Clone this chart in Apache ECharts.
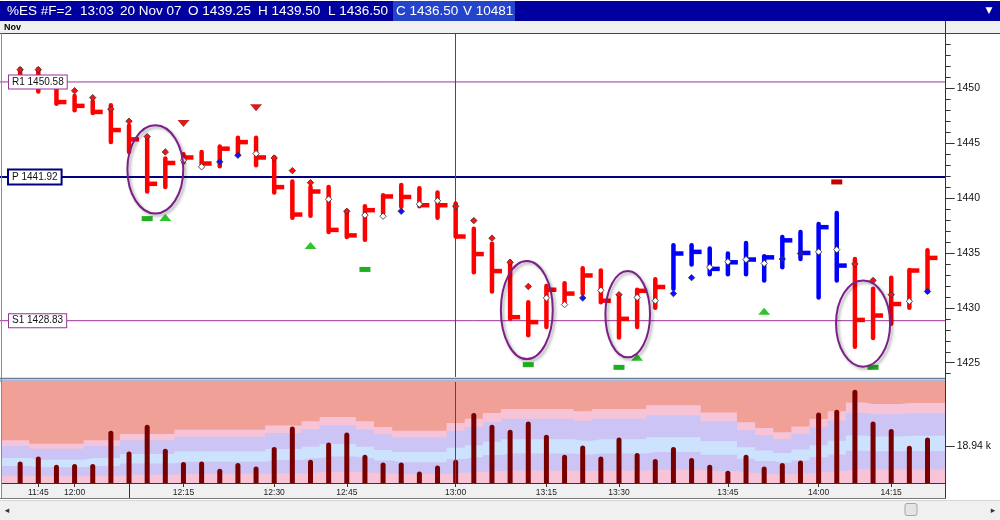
<!DOCTYPE html>
<html><head><meta charset="utf-8">
<script src="https://cdn.jsdelivr.net/npm/echarts@6/dist/echarts.min.js"></script>
<style>html,body{margin:0;padding:0;background:#fff}#c{width:1000px;height:520px}</style>
</head><body><div id="c"></div><script>
// ---------- data ----------
const tickIdx  = [1, 3, 9, 14, 18, 24, 29, 33, 39, 44, 48];
const tickText = ['11:45','12:00','12:15','12:30','12:45','13:00','13:15','13:30','13:45','14:00','14:15'];
const priceTicks = [1425, 1430, 1435, 1440, 1445, 1450];
const priceMinor = [1424,1425,1426,1427,1428,1429,1430,1431,1432,1433,1434,1435,1436,1437,1438,1439,1440,1441,1442,1443,1444,1445,1446,1447,1448,1449,1450,1451,1452,1453,1454,1455];
const volRef = 18.94;
const cursorBar = 24;

const opens  = [1451.7,1451.7,1450.3,1449.78,1449.15,1448.1,1447.0,1445.6,1444.2,1443.45,1442.85,1443.3,1443.9,1444.05,1443.65,1442.5,1441.4,1439.9,1438.8,1438.45,1438.35,1438.8,1439.45,1439.75,1439.25,1437.95,1436.35,1434.15,1431.95,1430.9,1430.3,1430.9,1431.6,1431.2,1430.95,1430.65,1431.3,1432.75,1433.7,1434.2,1434.4,1434.05,1434.45,1434.95,1435.1,1435.3,1434.0,1432.5,1431.2,1430.6,1431.5];
const highs  = [1451.75,1451.75,1450.25,1449.3,1448.8,1448.45,1446.6,1445.4,1443.6,1444.0,1444.2,1444.7,1445.5,1445.5,1443.7,1441.5,1441.0,1441.0,1438.8,1439.25,1440.25,1441.2,1440.9,1440.5,1439.5,1437.2,1435.85,1434.2,1430.5,1432.0,1432.25,1433.6,1433.4,1431.1,1431.65,1432.6,1435.7,1435.7,1435.4,1434.95,1435.9,1434.7,1436.45,1436.9,1437.65,1438.65,1434.45,1431.75,1432.75,1433.45,1435.25];
const lows   = [1450.5,1449.7,1448.6,1448.0,1447.75,1445.1,1444.2,1440.6,1441.0,1443.25,1442.85,1442.9,1444.0,1443.0,1440.5,1438.2,1438.4,1436.9,1436.45,1436.2,1438.6,1439.2,1439.25,1438.2,1436.5,1433.25,1431.5,1429.0,1427.5,1428.25,1430.35,1431.3,1430.5,1427.3,1428.25,1430.0,1431.75,1433.95,1433.05,1433.05,1433.05,1432.5,1433.7,1434.45,1430.95,1432.5,1426.45,1427.25,1428.55,1430.0,1431.45];
const closes = [1451.0,1450.25,1448.75,1448.4,1447.85,1446.2,1445.35,1441.3,1443.2,1443.7,1443.15,1444.5,1445.1,1443.7,1441.0,1438.5,1440.6,1437.1,1436.6,1438.9,1440.15,1440.1,1439.35,1439.35,1436.5,1434.9,1433.35,1429.15,1428.7,1431.65,1431.3,1432.95,1430.65,1429.0,1431.55,1431.9,1434.95,1435.1,1433.55,1434.15,1434.4,1434.6,1436.15,1435.0,1437.35,1433.85,1428.9,1429.3,1430.35,1433.4,1434.55];
const barColor  = ['r','r','r','r','r','r','r','r','r','r','r','r','r','r','r','r','r','r','r','r','r','r','r','r','r','r','r','r','r','r','r','r','r','r','r','r','b','b','b','b','b','b','b','b','b','b','r','r','r','r','r'];
const openColor = ['r','r','r','r','r','r','r','r','r','w','w','b','b','w','r','r','r','w','r','w','w','b','w','w','r','r','r','r','r','w','w','b','w','r','w','w','b','b','w','w','w','w','b','b','w','w','r','r','r','w','b'];

const volumes = [11.18,13.77,9.47,9.83,9.83,27.07,16.35,30.17,17.75,10.87,11.18,7.40,10.35,8.59,18.63,29.29,12.06,21.01,26.19,14.65,10.66,10.66,6.00,9.11,12.06,36.23,30.17,27.58,31.88,25.00,14.65,19.46,13.77,23.60,15.53,12.42,18.63,12.94,9.47,6.37,14.65,8.59,10.35,11.70,36.54,37.93,48.28,31.88,27.95,19.30,23.60];

const band5 = [22.1,20.3,20.3,20.3,22.1,22.1,25.4,25.4,25.4,27.6,27.6,27.6,27.6,27.6,29.8,29.8,31.9,34.2,34.2,31.9,29.0,27.1,27.1,27.1,31.1,33.3,36.2,38.3,38.3,38.3,38.3,37.1,38.3,38.3,38.3,40.2,40.2,40.2,36.5,36.5,31.4,28.5,26.2,29.3,33.1,37.1,41.7,40.9,40.9,41.4,41.4];
const band4 = [19.2,17.7,17.7,17.7,19.2,19.2,22.1,22.1,22.1,24.0,24.0,24.0,24.0,24.0,25.9,25.9,27.7,29.7,29.7,27.7,25.2,23.6,23.6,23.6,27.0,29.0,31.5,33.3,33.3,33.3,33.3,32.2,33.3,33.3,33.3,34.9,34.9,34.9,31.8,31.8,27.3,24.8,22.8,25.5,28.8,32.2,36.3,35.6,35.6,36.0,36.0];
const band3 = [13.0,12.0,12.0,12.0,13.0,13.0,15.0,15.0,15.0,16.3,16.3,16.3,16.3,16.3,17.6,17.6,18.8,20.2,20.2,18.8,17.1,16.0,16.0,16.0,18.3,19.6,21.4,22.6,22.6,22.6,22.6,21.9,22.6,22.6,22.6,23.7,23.7,23.7,21.6,21.6,18.5,16.8,15.5,17.3,19.5,21.9,24.6,24.1,24.1,24.4,24.4];
const band2 = [8.8,8.1,8.1,8.1,8.8,8.8,10.1,10.1,10.1,11.0,11.0,11.0,11.0,11.0,11.9,11.9,12.8,13.7,13.7,12.8,11.6,10.8,10.8,10.8,12.4,13.3,14.5,15.3,15.3,15.3,15.3,14.8,15.3,15.3,15.3,16.1,16.1,16.1,14.6,14.6,12.5,11.4,10.5,11.7,13.3,14.8,16.7,16.4,16.4,16.6,16.6];
const band1 = [3.8,3.5,3.5,3.5,3.8,3.8,4.3,4.3,4.3,4.7,4.7,4.7,4.7,4.7,5.1,5.1,5.4,5.8,5.8,5.4,4.9,4.6,4.6,4.6,5.3,5.7,6.2,6.5,6.5,6.5,6.5,6.3,6.5,6.5,6.5,6.8,6.8,6.8,6.2,6.2,5.3,4.8,4.5,5.0,5.6,6.3,7.1,7.0,7.0,7.0,7.0];

const levelNames  = ['R1', 'P', 'S1'];
const levelValues = [1450.58, 1441.92, 1428.83];

const sigUpGreen   = [[8, 1438.22], [16, 1435.69], [34, 1425.49], [41, 1429.69]];
const sigDownRed   = [[9, 1446.8], [13, 1448.23]];
const sigRectGreen = [[7, 1438.13], [19, 1433.5], [28, 1424.82], [33, 1424.58], [47, 1424.58]];
const sigRectRed   = [[45, 1441.47]];

// ellipse annotations: [centre bar, centre price, half width (bars), half height (points)]
const ellipseX  = [7.45, 27.92, 33.48, 46.45];
const ellipseY  = [1442.61, 1429.8, 1429.42, 1428.57];
const ellipseRX = [1.54, 1.43, 1.23, 1.49];
const ellipseRY = [4.02, 4.47, 3.93, 3.93];

const titleParts = ['%ES #F=2', '13:03', '20 Nov 07', 'O 1439.25', 'H 1439.50', 'L 1436.50', 'C 1436.50', 'V 10481'];

// ---------- styles ----------
const FONT = '"Liberation Sans", Arial, sans-serif';
const RED = '#ff0000', BLUE = '#0000ff';
const diaFill = {r: '#ff1010', b: '#1010ff', w: '#ffffff'};
const levelStroke = ['#993399', '#000080', '#993399'];
const levelWidth  = [1, 2, 1];

const ohlc = opens.map((o, i) => [i, o, highs[i], lows[i], closes[i]]);
const padBand = arr => [[-1, arr[0]]].concat(arr.map((v, i) => [i, v])).concat([[arr.length, arr[arr.length - 1]]]);

function renderBar(params, api) {
  const k = params.dataIndex;
  const i = api.value(0);
  const col = barColor[k] === 'b' ? BLUE : RED;
  const pO = api.coord([i, api.value(1)]);
  const pH = api.coord([i, api.value(2)]);
  const pL = api.coord([i, api.value(3)]);
  const pC = api.coord([i, api.value(4)]);
  const d = 3.2;
  return {type: 'group', children: [
    {type: 'line', shape: {x1: pH[0], y1: pH[1], x2: pL[0], y2: pL[1]}, style: {stroke: col, lineWidth: 4.5, lineCap: 'round'}},
    {type: 'line', shape: {x1: pC[0], y1: pC[1], x2: pC[0] + 10, y2: pC[1]}, style: {stroke: col, lineWidth: 4.5, lineCap: 'butt'}},
    {type: 'polygon', shape: {points: [[pO[0], pO[1] - d], [pO[0] + d, pO[1]], [pO[0], pO[1] + d], [pO[0] - d, pO[1]]]},
      style: {fill: diaFill[openColor[k]], stroke: '#303030', lineWidth: 0.8}}
  ]};
}
function renderLevelLine(params, api) {
  const k = params.dataIndex;
  const y = api.coord([0, api.value(1)])[1];
  const cs = params.coordSys;
  return {type: 'line', shape: {x1: cs.x - 2, y1: y, x2: cs.x + cs.width, y2: y},
    style: {stroke: levelStroke[k], lineWidth: levelWidth[k]}};
}
function renderLevelLabel(params, api) {
  const k = params.dataIndex;
  const y = api.coord([0, api.value(1)])[1];
  const cs = params.coordSys;
  return {type: 'text', x: cs.x + 7, y: y, style: {
    text: levelNames[k] + ' ' + api.value(1).toFixed(2), fill: '#111', font: '10px ' + FONT,
    align: 'left', verticalAlign: 'middle', backgroundColor: '#fff', borderColor: levelStroke[k],
    borderWidth: levelWidth[k], padding: [2, 3, 1, 3]}};
}
function renderEllipse(params, api) {
  const c = api.coord([api.value(0), api.value(1)]);
  const s = api.size([api.value(2), api.value(3)]);
  return {type: 'ellipse', shape: {cx: c[0], cy: c[1], rx: s[0], ry: s[1]},
    style: {fill: 'none', stroke: '#7d1f88', lineWidth: 2, shadowBlur: 3, shadowColor: 'rgba(0,0,0,0.35)', shadowOffsetX: 2, shadowOffsetY: 2}};
}

const bandColors = ['#f7c3d6', '#cbc4f4', '#cde3fd', '#cbc4f4', '#f7c3d6'];
const bandArrays = [band5, band4, band3, band2, band1];

// ---------- graphics (chrome) ----------
const titleX = [7, 80, 120, 188, 258, 328, 396, 463];
const G = [
  {type: 'rect', z: 10, shape: {x: 0, y: 1, width: 1000, height: 20}, style: {fill: '#0000a0'}},
  {type: 'rect', z: 10, shape: {x: 393, y: 1, width: 122, height: 20}, style: {fill: '#2544cc'}},
  {type: 'text', z: 11, x: 989, y: 11, style: {text: '▼', fill: '#fff', font: '9px "DejaVu Sans"', align: 'center', verticalAlign: 'middle'}},
  {type: 'rect', z: 10, shape: {x: 0, y: 21, width: 1000, height: 12}, style: {fill: '#f0f0f0'}},
  {type: 'line', z: 11, shape: {x1: 0, y1: 33.5, x2: 1000, y2: 33.5}, style: {stroke: '#444', lineWidth: 1}},
  {type: 'text', z: 11, x: 4, y: 27.5, style: {text: 'Nov', fill: '#000', font: 'bold 9px ' + FONT, verticalAlign: 'middle'}},
  {type: 'rect', z: 10, shape: {x: 0, y: 377, width: 946, height: 5}, style: {fill: '#dde4ee'}},
  {type: 'line', z: 11, shape: {x1: 0, y1: 378.5, x2: 946, y2: 378.5}, style: {stroke: '#6b7a90', lineWidth: 1}},
  {type: 'rect', z: 11, shape: {x: 0, y: 379.5, width: 946, height: 2.5}, style: {fill: '#a7b9d6'}},
  {type: 'rect', z: 1, shape: {x: 2, y: 483.5, width: 944, height: 14.5}, style: {fill: '#f0f0f0'}},
  {type: 'line', z: 11, shape: {x1: 0, y1: 498.5, x2: 946, y2: 498.5}, style: {stroke: '#7a7a7a', lineWidth: 1}},
  {type: 'rect', z: 10, shape: {x: 0, y: 500, width: 1000, height: 20}, style: {fill: '#f0f0f0'}},
  {type: 'line', z: 11, shape: {x1: 0, y1: 500.5, x2: 1000, y2: 500.5}, style: {stroke: '#d6d6d6', lineWidth: 1}},
  {type: 'text', z: 11, x: 7, y: 511, style: {text: '◂', fill: '#333', font: '9px "DejaVu Sans"', align: 'center', verticalAlign: 'middle'}},
  {type: 'text', z: 11, x: 993, y: 511, style: {text: '▸', fill: '#333', font: '9px "DejaVu Sans"', align: 'center', verticalAlign: 'middle'}},
  {type: 'rect', z: 11, shape: {x: 905, y: 503.5, width: 12, height: 12, r: 2}, style: {fill: '#e4e4e4', stroke: '#a6a6a6', lineWidth: 1}},
  {type: 'line', z: 11, shape: {x1: 1.5, y1: 33, x2: 1.5, y2: 498}, style: {stroke: '#8a8a8a', lineWidth: 1}},
  {type: 'line', z: 11, shape: {x1: 945.5, y1: 21, x2: 945.5, y2: 498}, style: {stroke: '#333', lineWidth: 1}}
];
titleParts.forEach((t, k) => G.push({type: 'text', z: 12, x: titleX[k], y: 11.5,
  style: {text: t, fill: '#fff', font: '13.5px ' + FONT, verticalAlign: 'middle'}}));

const plain = v => String(v);
const chart = echarts.init(document.getElementById('c'), null, {renderer: 'canvas', width: 1000, height: 520});
const option = {
  animation: false,
  backgroundColor: '#fff',
  textStyle: {fontFamily: FONT},
  graphic: {elements: G},
  grid: [
    {left: 2, right: 54.35, top: 33, height: 344, show: false, containLabel: false, outerBoundsMode: 'none'},
    {left: 2, right: 54.35, top: 382, height: 101, show: true, backgroundColor: '#f1a097', borderWidth: 0, containLabel: false, outerBoundsMode: 'none'}
  ],
  xAxis: [
    {type: 'value', gridIndex: 0, min: -1, max: 51, show: false, axisLine: {onZero: false}},
    {type: 'value', gridIndex: 1, min: -1, max: 51, z: 3,
      axisLine: {show: true, onZero: false, lineStyle: {color: '#333', width: 1}},
      axisTick: {show: true, customValues: tickIdx, length: 4, lineStyle: {color: '#333'}},
      axisLabel: {show: true, customValues: tickIdx, formatter: v => tickText[tickIdx.indexOf(v)] || '', fontSize: 8.5, color: '#222', margin: 5},
      splitLine: {show: false}}
  ],
  yAxis: [
    {type: 'value', gridIndex: 0, position: 'right', min: 1423.7, max: 1455.04, z: 3,
      axisLine: {show: true, onZero: false, lineStyle: {color: '#333'}},
      axisTick: {show: true, customValues: priceTicks, length: 9, lineStyle: {color: '#333'}},
      axisLabel: {show: true, customValues: priceTicks, formatter: plain, fontSize: 10.5, color: '#111', margin: 11},
      splitLine: {show: false}},
    {type: 'value', gridIndex: 0, position: 'right', min: 1423.7, max: 1455.04, z: 3,
      axisLine: {show: false, onZero: false},
      axisTick: {show: true, customValues: priceMinor, length: 5, lineStyle: {color: '#333'}},
      axisLabel: {show: false}, splitLine: {show: false}},
    {type: 'value', gridIndex: 1, position: 'right', min: 0, max: 52.27, z: 3,
      axisLine: {show: true, onZero: false, lineStyle: {color: '#333'}},
      axisTick: {show: true, customValues: [volRef], length: 9, lineStyle: {color: '#333'}},
      axisLabel: {show: true, customValues: [volRef], formatter: v => v.toFixed(2) + ' k', fontSize: 10.5, color: '#111', margin: 11},
      splitLine: {show: false}}
  ],
  series: [
    {type: 'custom', name: 'levels', xAxisIndex: 0, yAxisIndex: 0, z: 1, silent: true,
      data: levelValues.map(v => [0, v]), encode: {x: 0, y: 1}, renderItem: renderLevelLine},
    {type: 'line', name: 'cursor', xAxisIndex: 0, yAxisIndex: 0, z: 1, data: [], silent: true,
      markLine: {symbol: 'none', silent: true, label: {show: false}, lineStyle: {color: '#ff0000', width: 1, type: 'solid'},
        data: [{xAxis: cursorBar}]}},
    {type: 'custom', name: 'bars', xAxisIndex: 0, yAxisIndex: 0, z: 3, silent: true,
      data: ohlc, encode: {x: 0, y: [1, 2, 3, 4]}, renderItem: renderBar},
    {type: 'scatter', xAxisIndex: 0, yAxisIndex: 0, z: 4, silent: true, data: sigUpGreen,
      symbol: 'triangle', symbolSize: [12, 7], itemStyle: {color: '#2dc42d', opacity: 1}},
    {type: 'scatter', xAxisIndex: 0, yAxisIndex: 0, z: 4, silent: true, data: sigDownRed,
      symbol: 'triangle', symbolRotate: 180, symbolSize: [12, 7], itemStyle: {color: '#d22020', opacity: 1}},
    {type: 'scatter', xAxisIndex: 0, yAxisIndex: 0, z: 4, silent: true, data: sigRectGreen,
      symbol: 'rect', symbolSize: [11, 5], itemStyle: {color: '#1fae1f', opacity: 1}},
    {type: 'scatter', xAxisIndex: 0, yAxisIndex: 0, z: 4, silent: true, data: sigRectRed,
      symbol: 'rect', symbolSize: [11, 5], itemStyle: {color: '#c40000', opacity: 1}},
    {type: 'custom', name: 'ellipses', xAxisIndex: 0, yAxisIndex: 0, z: 5, silent: true,
      data: ellipseX.map((x, k) => [x, ellipseY[k], ellipseRX[k], ellipseRY[k]]), encode: {x: 0, y: 1}, renderItem: renderEllipse},
    {type: 'custom', name: 'levelLabels', xAxisIndex: 0, yAxisIndex: 0, z: 6, silent: true,
      data: levelValues.map(v => [0, v]), encode: {x: 0, y: 1}, renderItem: renderLevelLabel}
  ].concat(bandArrays.map((arr, k) => ({
    type: 'line', xAxisIndex: 1, yAxisIndex: 2, z: 1, silent: true, step: 'middle', showSymbol: false, symbol: 'none',
    data: padBand(arr), lineStyle: {width: 0}, areaStyle: {color: bandColors[k], opacity: 1}
  }))).concat([
    {type: 'bar', name: 'volume', xAxisIndex: 1, yAxisIndex: 2, z: 3, silent: true, barWidth: 5,
      data: volumes.map((v, i) => [i, v]),
      itemStyle: {color: '#780000', borderRadius: [2.5, 2.5, 0, 0]},
      markLine: {symbol: 'none', silent: true, label: {show: false}, lineStyle: {color: '#ff0000', width: 1, type: 'solid'},
        data: [{xAxis: cursorBar}]}}
  ])
};
chart.setOption(option);
// session divider in the time strip, placed through the axis scale
const sx = chart.convertToPixel({xAxisIndex: 1}, 6);
chart.setOption({graphic: {elements: [{id: 'sep', type: 'line', z: 11, shape: {x1: Math.round(sx) + 0.5, y1: 483, x2: Math.round(sx) + 0.5, y2: 498}, style: {stroke: '#333', lineWidth: 1}}]}});
</script></body></html>
